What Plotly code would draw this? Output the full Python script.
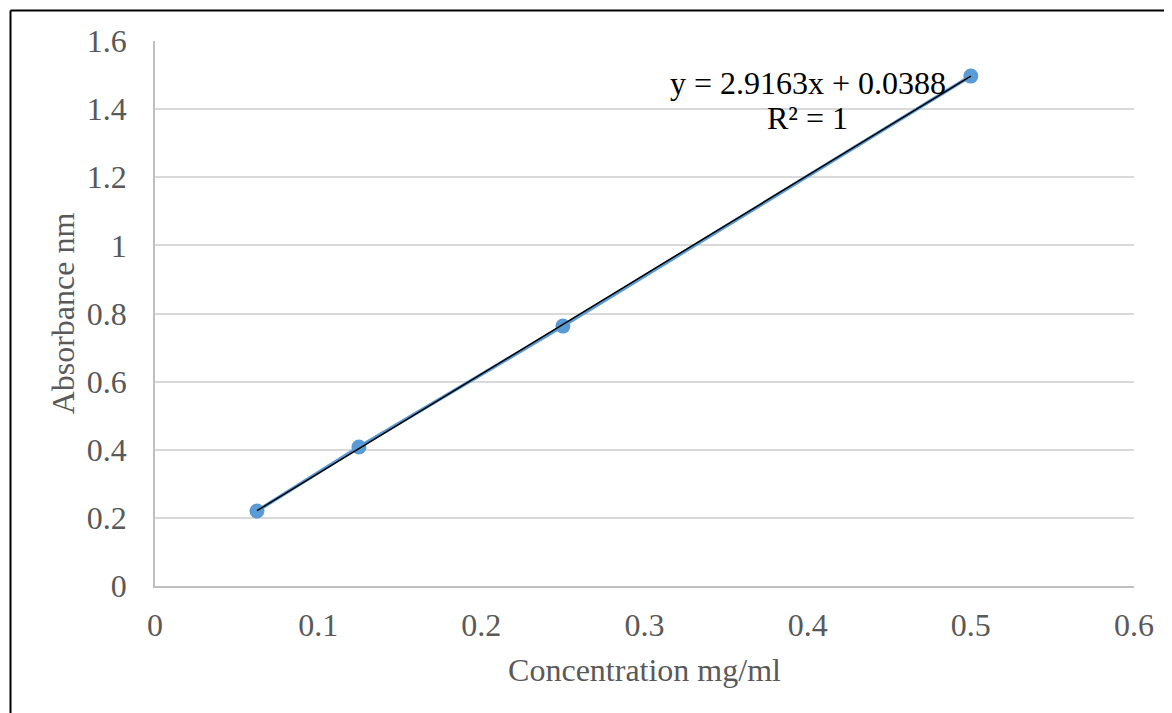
import plotly.graph_objects as go

concentration = [0.0625, 0.125, 0.25, 0.5]
absorbance = [0.220, 0.408, 0.763, 1.497]
slope = 2.9163
intercept = 0.0388
x_ticks = [0, 0.1, 0.2, 0.3, 0.4, 0.5, 0.6]
x_tick_labels = ["0", "0.1", "0.2", "0.3", "0.4", "0.5", "0.6"]
y_ticks = [0, 0.2, 0.4, 0.6, 0.8, 1.0, 1.2, 1.4, 1.6]
y_tick_labels = ["0", "0.2", "0.4", "0.6", "0.8", "1", "1.2", "1.4", "1.6"]

trend_x = [min(concentration), max(concentration)]
trend_y = [slope * v + intercept for v in trend_x]

FONT = "Liberation Serif, Times New Roman, serif"
GRAY = "#595959"
FS = 32

fig = go.Figure()
fig.add_trace(go.Scatter(
    x=concentration, y=absorbance, mode="lines+markers",
    line=dict(color="#5b9bd5", width=3.5),
    marker=dict(color="#5b9bd5", size=15),
    showlegend=False, hoverinfo="x+y"))
fig.add_trace(go.Scatter(
    x=trend_x, y=trend_y, mode="lines",
    line=dict(color="black", width=1.5),
    showlegend=False, hoverinfo="skip"))

fig.add_annotation(
    x=0.4, y=1.477, xref="x", yref="y", yanchor="middle",
    text="y = 2.9163x + 0.0388",
    showarrow=False, font=dict(family=FONT, size=FS, color="black"))
fig.add_annotation(
    x=0.4, y=1.374, xref="x", yref="y", yanchor="middle",
    text="R² = 1",
    showarrow=False, font=dict(family=FONT, size=FS, color="black"))

# page body has an 8px margin; compensate
W, H = 1164, 705
L, R, T, B = 147, 38, 33, 127
pw, ph = W - L - R, H - T - B
# outer border (top and left)
fig.add_shape(type="line", xref="paper", yref="paper",
              x0=(2.5 - L) / pw, x1=(W - L) / pw,
              y0=1 + (T - 2.5) / ph, y1=1 + (T - 2.5) / ph,
              line=dict(color="black", width=2))
fig.add_shape(type="line", xref="paper", yref="paper",
              x0=(2.5 - L) / pw, x1=(2.5 - L) / pw,
              y0=1 + (T - 2.5) / ph, y1=-B / ph,
              line=dict(color="black", width=2))

fig.update_layout(
    width=W, height=H,
    margin=dict(l=L, r=R, t=T, b=B),
    paper_bgcolor="white", plot_bgcolor="white",
    font=dict(family=FONT, color=GRAY),
    xaxis=dict(range=[0, 0.6], tickvals=x_ticks, ticktext=x_tick_labels,
               showgrid=False, zeroline=False, showline=True,
               linecolor="#bfbfbf", linewidth=1.5, ticks="",
               ticklabelstandoff=10,
               tickfont=dict(size=FS, color=GRAY, family=FONT),
               title=dict(text="Concentration mg/ml", standoff=16,
                          font=dict(size=FS, color=GRAY, family=FONT))),
    yaxis=dict(range=[0, 1.6], tickvals=y_ticks, ticktext=y_tick_labels,
               showgrid=True, gridcolor="#d9d9d9", gridwidth=1.5,
               zeroline=False, showline=True,
               linecolor="#bfbfbf", linewidth=1.5, ticks="",
               ticklabelstandoff=20,
               tickfont=dict(size=FS, color=GRAY, family=FONT),
               title=dict(text="Absorbance nm", standoff=3,
                          font=dict(size=FS, color=GRAY, family=FONT))),
)

fig.write_html("out.html")
